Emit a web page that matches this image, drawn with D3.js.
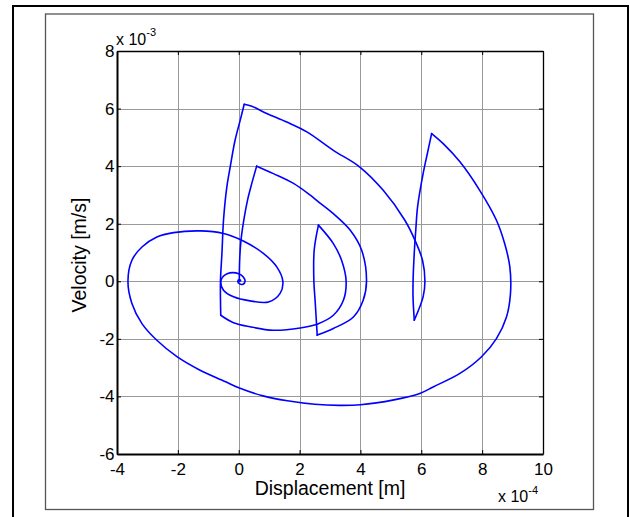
<!DOCTYPE html>
<html>
<head>
<meta charset="utf-8">
<script src="https://cdn.jsdelivr.net/npm/d3@7"></script>
<style>
  body { margin: 0; background: #fff; }
  svg { display: block; }
  text { font-family: "Liberation Sans", Arial, Helvetica, sans-serif; fill: #000; }
</style>
</head>
<body>
<svg id="chart" width="630" height="517"></svg>
<script>
// Phase portrait of a damped oscillator driven by four short pulses.
// Displacement in units of 1e-4 m, velocity in units of 1e-3 m/s.

const xTicks = [-4, -2, 0, 2, 4, 6, 8, 10];
const yTicks = [-6, -4, -2, 0, 2, 4, 6, 8];
const xExponent = "-4";
const yExponent = "-3";

// pulse 1, starting from rest
const pulse1 = [[0.02, 0], [0.03, 0.7], [0.075, 1.43], [0.166, 2.12], [0.29, 2.82], [0.43, 3.4], [0.59, 4.0]];
// free motion after pulse 1
const coast1 = [[0.59, 4.0], [1.14, 3.74], [1.80, 3.40], [2.34, 3.0], [2.62, 2.76], [3.11, 2.35], [3.66, 1.78],
  [4.04, 1.08], [4.2, 0], [4.09, -0.66], [3.77, -1.24], [3.11, -1.64], [2.58, -1.87]];
const pulse2 = [[2.58, -1.87], [2.51, -0.66], [2.47, 0], [2.48, 1.08], [2.62, 1.95]];
const coast2 = [[2.62, 1.95], [3.11, 1.31], [3.38, 0.73], [3.53, 0], [3.44, -0.66], [3.11, -1.18], [2.6, -1.48],
  [2.02, -1.62], [1.14, -1.70], [0.37, -1.58], [-0.17, -1.44], [-0.59, -1.18]];
const pulse3 = [[-0.59, -1.18], [-0.60, 0], [-0.55, 1.0], [-0.50, 2.12], [-0.39, 3.28], [-0.28, 3.97], [-0.12, 4.9],
  [0.05, 5.6], [0.18, 6.15]];
const coast3 = [[0.18, 6.15], [0.43, 6.08], [0.92, 5.83], [1.58, 5.53], [2.24, 5.19], [3.11, 4.55], [3.98, 3.97],
  [4.75, 3.16], [5.46, 2.12], [5.79, 1.43], [6.04, 0.73], [6.12, 0], [6.06, -0.54], [5.77, -1.35]];
const pulse4 = [[5.77, -1.35], [5.73, -0.6], [5.73, 0], [5.77, 1.0], [5.82, 1.8], [5.88, 2.6], [6.06, 3.74],
  [6.2, 4.44], [6.34, 5.13]];
// final decaying spiral back to rest
const coast4 = [[6.34, 5.13], [6.72, 4.78], [7.27, 4.15], [7.92, 3.16], [8.47, 2.12], [8.74, 1.31], [8.91, 0.5],
  [8.93, -0.44], [8.8, -1.24], [8.47, -1.99], [7.98, -2.62], [7.27, -3.2], [6.39, -3.67], [5.95, -3.9],
  [5.1, -4.12], [4.0, -4.29], [3.3, -4.31], [2.5, -4.27], [1.6, -4.15], [0.8, -3.98], [0.0, -3.7],
  [-0.45, -3.48], [-1.27, -3.09], [-2.03, -2.62], [-2.69, -2.05], [-3.18, -1.47], [-3.51, -0.77], [-3.64, 0],
  [-3.51, 0.73], [-3.18, 1.19], [-2.69, 1.54], [-2.14, 1.69], [-1.27, 1.75], [-0.5, 1.66], [0.15, 1.40],
  [0.81, 0.97], [1.25, 0.50], [1.45, 0], [1.36, -0.42], [0.98, -0.72], [0.37, -0.68], [-0.17, -0.54],
  [-0.5, -0.31], [-0.59, 0], [-0.52, 0.16], [-0.38, 0.26], [-0.2, 0.3], [0.0, 0.26], [0.15, 0.15], [0.21, 0],
  [0.14, -0.1], [0.03, -0.09], [-0.03, 0.0], [0.02, 0.06], [0.06, 0.03], [0.03, 0.0]];

const segments = [pulse1, coast1, pulse2, coast2, pulse3, coast3, pulse4, coast4];

const svg = d3.select("#chart");

// figure frames
svg.append("rect").attr("x", 13).attr("y", 6).attr("width", 615).attr("height", 620)
  .attr("fill", "none").attr("stroke", "#000").attr("stroke-width", 2);
svg.append("rect").attr("x", 45.5).attr("y", 14).attr("width", 548).attr("height", 495.5)
  .attr("fill", "none").attr("stroke", "#555").attr("stroke-width", 1.3);

const plot = { left: 117, right: 543, top: 51, bottom: 454 };
const x = d3.scaleLinear().domain([xTicks[0], xTicks[xTicks.length - 1]]).range([plot.left, plot.right]);
const y = d3.scaleLinear().domain([yTicks[0], yTicks[yTicks.length - 1]]).range([plot.bottom, plot.top]);

// grid
const grid = svg.append("g").attr("stroke", "#999").attr("stroke-width", 1);
xTicks.slice(1, -1).forEach(t => grid.append("line")
  .attr("x1", Math.round(x(t)) + 0.5).attr("x2", Math.round(x(t)) + 0.5)
  .attr("y1", plot.top).attr("y2", plot.bottom));
yTicks.slice(1, -1).forEach(t => grid.append("line")
  .attr("x1", plot.left).attr("x2", plot.right)
  .attr("y1", Math.round(y(t)) + 0.5).attr("y2", Math.round(y(t)) + 0.5));

// trajectory
const line = d3.line().x(d => x(d[0])).y(d => y(d[1])).curve(d3.curveCatmullRom.alpha(0.5));
svg.append("g").selectAll("path").data(segments).join("path")
  .attr("d", line).attr("fill", "none").attr("stroke", "#0000ff")
  .attr("stroke-width", 1.6).attr("stroke-linejoin", "round").attr("stroke-linecap", "round");

// axes with inward ticks
function styleAxis(g, width) {
  g.select(".domain").attr("stroke", "#000").attr("stroke-width", width);
  g.selectAll(".tick line").attr("stroke", "#000");
  g.selectAll(".tick text").attr("font-size", 17).attr("font-family", "Liberation Sans, Arial, sans-serif").attr("fill", "#000");
}
svg.append("g").attr("transform", `translate(0,${plot.top})`)
  .call(d3.axisTop(x).tickValues(xTicks).tickSizeInner(-4).tickSizeOuter(0).tickFormat(""))
  .call(g => styleAxis(g, 1.3));
svg.append("g").attr("transform", `translate(${plot.right},0)`)
  .call(d3.axisRight(y).tickValues(yTicks).tickSizeInner(-4).tickSizeOuter(0).tickFormat(""))
  .call(g => styleAxis(g, 1.3));
svg.append("g").attr("transform", `translate(0,${plot.bottom})`)
  .call(d3.axisBottom(x).tickValues(xTicks).tickSizeInner(-4).tickSizeOuter(0).tickPadding(8.5).tickFormat(d3.format("d")))
  .call(g => styleAxis(g, 2));
svg.append("g").attr("transform", `translate(${plot.left},0)`)
  .call(d3.axisLeft(y).tickValues(yTicks).tickSizeInner(-4).tickSizeOuter(0).tickPadding(2.5).tickFormat(d3.format("d")))
  .call(g => styleAxis(g, 2));
svg.selectAll(".tick text").text(function () { return d3.select(this).text().replace("−", "-"); });

// axis titles
svg.append("text").attr("x", 330).attr("y", 495).attr("text-anchor", "middle")
  .attr("font-size", 19.5).text("Displacement [m]");
svg.append("text").attr("transform", "translate(86,255) rotate(-90)").attr("text-anchor", "middle")
  .attr("font-size", 19.5).text("Velocity [m/s]");

// scale multipliers
const ym = svg.append("text").attr("x", 116).attr("y", 45).attr("font-size", 16);
ym.append("tspan").text("x 10");
ym.append("tspan").attr("dy", -9).attr("font-size", 11).text(yExponent);
const xm = svg.append("text").attr("x", 498).attr("y", 502).attr("font-size", 16);
xm.append("tspan").text("x 10");
xm.append("tspan").attr("dy", -8).attr("font-size", 11).text(xExponent);
</script>
</body>
</html>
